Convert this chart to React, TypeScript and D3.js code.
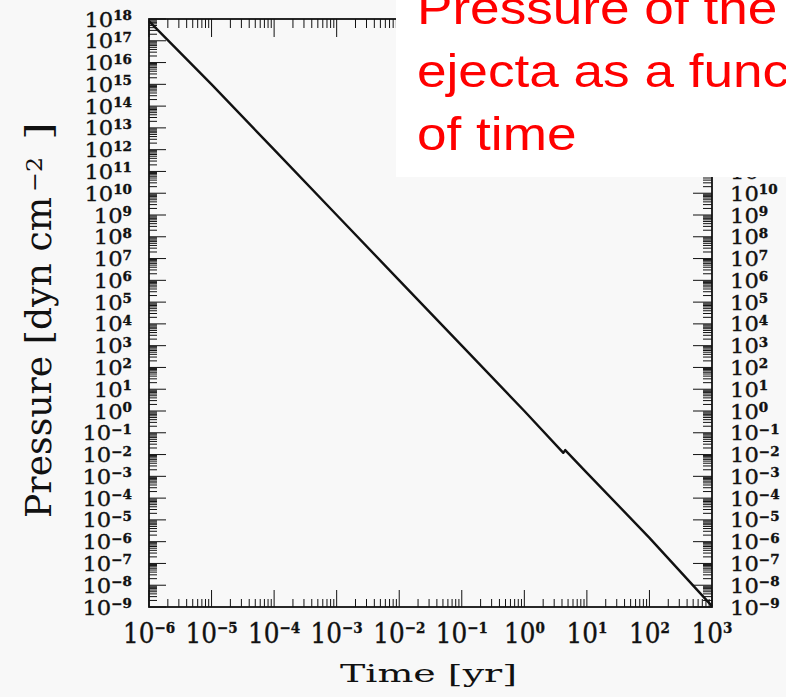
import React from "react";
import * as d3 from "d3";

// Ejecta pressure history (time in yr, pressure in dyn cm^-2)
const times = [1e-6, 1e-5, 1e-4, 1e-3, 1e-2, 1e-1, 1, 4.2, 4.5, 10, 100, 1000];
const pressures = [8e17, 1e15, 1e12, 1e9, 1e6, 1e3, 1, 1.2e-2, 1.6e-2, 1.45e-3, 1.5e-6, 1.1e-9];

// Decade exponents used for the axis labels
const xExponents = [-6, -5, -4, -3, -2, -1, 0, 1, 2, 3];
const yExponents = [-9, -8, -7, -6, -5, -4, -3, -2, -1, 0, 1, 2, 3, 4, 5, 6, 7, 8, 9, 10, 11, 12, 13, 14, 15, 16, 17, 18];

const xTitle = "Time [yr]";
const yTitleMain = "Pressure [dyn cm";
const yTitleExp = "\u22122";
const noteLines = ["Pressure of the", "ejecta as a function", "of time"];

const W = 786;
const H = 697;
const L = 149, R = 712, T = 19, B = 607;
const BG = "#f8f8f8";
const INK = "#111";
const SERIF = "'DejaVu Serif', serif";
const NOTE_BOTTOM = 177;

const expText = (e: number) => (e < 0 ? "\u2212" + Math.abs(e) : String(e));

function minorTicks(lo: number, hi: number): number[] {
  const out: number[] = [];
  for (let e = lo; e < hi; e++) {
    for (let k = 2; k <= 9; k++) out.push(k * Math.pow(10, e));
  }
  return out;
}

export default function App() {
  const x = d3.scaleLog().domain([1e-6, 1e3]).range([L, R]);
  const y = d3.scaleLog().domain([1e-9, 1e18]).range([B, T]);

  const pts: [number, number][] = times.map((t, i) => [t, pressures[i]]);
  const path = d3
    .line<[number, number]>()
    .x((d) => x(d[0]))
    .y((d) => y(d[1]))(pts) as string;

  const xMajor = xExponents.map((e) => Math.pow(10, e));
  const yMajor = yExponents.map((e) => Math.pow(10, e));
  const xMinor = minorTicks(-6, 3);
  const yMinor = minorTicks(-9, 18);

  // right-hand labels sitting under the note box are not drawn
  const rightExps = yExponents.filter((e) => y(Math.pow(10, e)) - 8 < NOTE_BOTTOM ? y(Math.pow(10, e)) + 8 > NOTE_BOTTOM : true);

  const labelText = (e: number, big: number, small: number, dy: number, anchor: string) => (
    <text textAnchor={anchor} fill={INK} stroke={INK} strokeWidth={0.35} fontFamily={SERIF}>
      <tspan fontSize={big}>10</tspan>
      <tspan fontSize={small} fontWeight="bold" dy={dy}>{expText(e)}</tspan>
    </text>
  );

  return (
    <div style={{ position: "fixed", left: 0, top: 0, width: W, height: H, background: BG }}>
      <svg width={W} height={H} style={{ display: "block" }}>
        <rect x={0} y={0} width={W} height={H} fill={BG} />

        {/* ticks: bottom / top */}
        <g stroke={INK} strokeWidth={1}>
          {xMinor.map((v, i) => (
            <g key={"xm" + i}>
              <line x1={x(v)} x2={x(v)} y1={B} y2={B - 8} />
              <line x1={x(v)} x2={x(v)} y1={T} y2={T + 9} />
            </g>
          ))}
          {xMajor.map((v, i) => (
            <g key={"xM" + i}>
              <line x1={x(v)} x2={x(v)} y1={B} y2={B - 17} />
              <line x1={x(v)} x2={x(v)} y1={T} y2={T + 18} />
            </g>
          ))}
          {yMinor.map((v, i) => (
            <g key={"ym" + i}>
              <line x1={L} x2={L + 8} y1={y(v)} y2={y(v)} />
              <line x1={R} x2={R - 9} y1={y(v)} y2={y(v)} />
            </g>
          ))}
          {yMajor.map((v, i) => (
            <g key={"yM" + i}>
              <line x1={L} x2={L + 17} y1={y(v)} y2={y(v)} />
              <line x1={R} x2={R - 19} y1={y(v)} y2={y(v)} />
            </g>
          ))}
        </g>

        {/* frame */}
        <rect x={L} y={T} width={R - L} height={B - T} fill="none" stroke={INK} strokeWidth={1.8} />

        {/* pressure curve */}
        <path d={path} fill="none" stroke={INK} strokeWidth={2.4} strokeLinejoin="round" />

        {/* x tick labels */}
        {xExponents.map((e, i) => (
          <g key={"xl" + i} transform={`translate(${x(xMajor[i])},643) scale(0.9,1)`}>
            {labelText(e, 27.5, 15, -10, "middle")}
          </g>
        ))}

        {/* left y tick labels */}
        {yExponents.map((e, i) => (
          <g key={"yl" + i} transform={`translate(132,${y(yMajor[i]) + 7.5}) scale(1.08,1)`}>
            {labelText(e, 21, 12.5, -6.5, "end")}
          </g>
        ))}

        {/* right y tick labels */}
        {rightExps.map((e) => (
          <g key={"yr" + e} transform={`translate(730,${y(Math.pow(10, e)) + 7.5}) scale(1.08,1)`}>
            {labelText(e, 21, 12.5, -6.5, "start")}
          </g>
        ))}

        {/* axis titles */}
        <text x={340} y={682} fontFamily={SERIF} fontSize={25} fill={INK}
          textLength={177} lengthAdjust="spacingAndGlyphs">{xTitle}</text>

        <g transform="translate(51,518) rotate(-90)" fill={INK} fontFamily={SERIF}>
          <text x={0} y={0} fontSize={35} textLength={321} lengthAdjust="spacingAndGlyphs">{yTitleMain}</text>
          <text x={326} y={-9} fontSize={22} textLength={35} lengthAdjust="spacingAndGlyphs">{yTitleExp}</text>
          <text x={378} y={0} fontSize={35} textLength={18} lengthAdjust="spacingAndGlyphs">]</text>
        </g>

        {/* annotation box */}
        <rect x={396} y={-2} width={W - 396 + 10} height={NOTE_BOTTOM + 2} fill="#ffffff" />
        <g transform="translate(417,0) scale(1.155,1)" fill="#ff0000"
          fontFamily="'Liberation Sans', Arial, sans-serif" fontSize={46}>
          {noteLines.map((s, i) => (
            <text key={"n" + i} x={0} y={24 + i * 63}>{s}</text>
          ))}
        </g>
      </svg>
    </div>
  );
}
